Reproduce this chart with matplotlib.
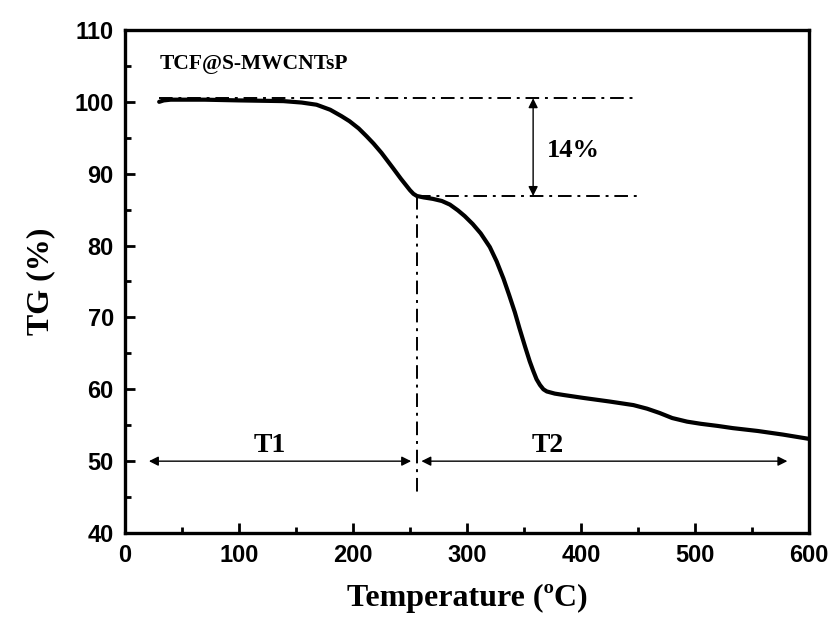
import numpy as np
import matplotlib
matplotlib.use("Agg")
import matplotlib.pyplot as plt
from matplotlib.ticker import MultipleLocator

# TG curve
temp = [30, 34, 40, 48, 70, 100, 139, 155, 168, 180, 190, 197, 205, 212, 218,
        225, 235, 242, 250, 253, 256, 262, 270, 278, 285, 292, 298, 305, 312,
        320, 326, 332, 337, 342, 346, 351, 355, 358, 361, 364, 367, 370, 377,
        385, 402, 425, 446, 458, 469, 480, 493, 505, 520, 533, 555, 577, 600]
tg = [100.0, 100.2, 100.3, 100.3, 100.3, 100.2, 100.1, 99.9, 99.6, 98.9, 98.0,
      97.3, 96.3, 95.2, 94.2, 92.9, 90.8, 89.3, 87.7, 87.2, 86.9, 86.7, 86.5,
      86.2, 85.7, 84.9, 84.1, 83.0, 81.7, 79.8, 77.8, 75.4, 73.1, 70.7, 68.5,
      65.9, 63.9, 62.6, 61.4, 60.6, 60.0, 59.7, 59.4, 59.2, 58.8, 58.3, 57.8,
      57.3, 56.7, 56.0, 55.5, 55.2, 54.9, 54.6, 54.2, 53.7, 53.1]

step_temp = 256
level_top = 100.5
level_step = 86.9
loss_label = "14%"
region_y = 50
regions = [("T1", 21, 251, 127), ("T2", 260, 581, 371)]

serif = "Liberation Serif"
sans = "Liberation Sans"

fig = plt.figure(figsize=(8.32, 6.18), dpi=100)
ax = fig.add_axes([0.1502, 0.1375, 0.8222, 0.814])

ax.plot(temp, tg, color="black", lw=3.0, solid_capstyle="round", solid_joinstyle="round")

dashdot = (0, (7, 3, 1.5, 3))
ax.plot([temp[0], 447], [level_top, level_top], color="black", lw=1.4, linestyle=dashdot)
ax.plot([step_temp, 452], [level_step, level_step], color="black", lw=1.4, linestyle=dashdot)
ax.plot([step_temp, step_temp], [level_step, 45], color="black", lw=1.4, linestyle=dashdot)

arrow = dict(arrowstyle="<|-|>", color="black", lw=1.0, mutation_scale=14, shrinkA=0, shrinkB=0)
ax.annotate("", xy=(358, level_top), xytext=(358, level_step), arrowprops=arrow)
ax.text(370, 93.2, loss_label, family=serif, fontweight="bold", fontsize=19, va="center", ha="left")

for name, x0, x1, xt in regions:
    ax.annotate("", xy=(x0, region_y), xytext=(x1, region_y), arrowprops=arrow)
    ax.text(xt, region_y + 0.5, name, family=serif, fontweight="bold", fontsize=20,
            ha="center", va="bottom")

ax.text(30, 105.3, "TCF@S-MWCNTsP", family=serif, fontweight="bold", fontsize=15.5, va="center")

ax.set_xlim(0, 600)
ax.set_ylim(40, 110)
ax.xaxis.set_major_locator(MultipleLocator(100))
ax.xaxis.set_minor_locator(MultipleLocator(50))
ax.yaxis.set_major_locator(MultipleLocator(10))
ax.yaxis.set_minor_locator(MultipleLocator(5))
ax.tick_params(which="both", direction="in", width=2, top=False, right=False)
ax.tick_params(which="major", length=7, labelsize=17, pad=8)
ax.tick_params(which="minor", length=4)
for lab in ax.get_xticklabels() + ax.get_yticklabels():
    lab.set_family(sans)
    lab.set_fontweight("bold")
for sp in ax.spines.values():
    sp.set_linewidth(2.4)

ax.set_xlabel("Temperature (ºC)", family=serif, fontweight="bold", fontsize=23, labelpad=12)
ax.set_ylabel("TG (%)", family=serif, fontweight="bold", fontsize=23, labelpad=14)

fig.savefig("out.png", dpi=100)
